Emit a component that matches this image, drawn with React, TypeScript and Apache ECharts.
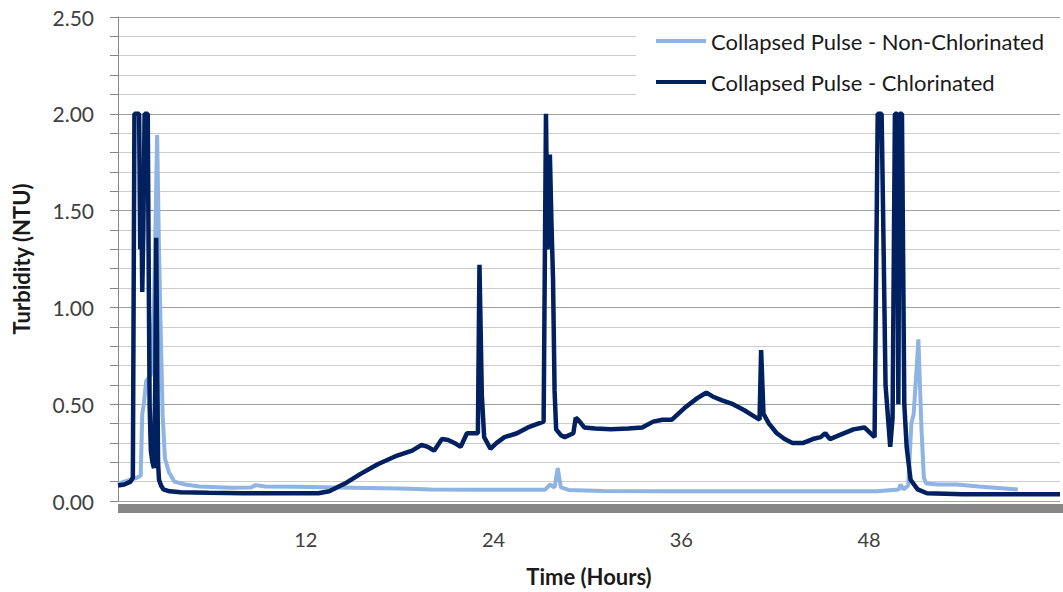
import { useEffect, useRef } from "react";
import * as echarts from "echarts";

// Series names as shown in the legend
const seriesNames = [
  "Collapsed Pulse - Non-Chlorinated",
  "Collapsed Pulse - Chlorinated",
];

// Hour marks labelled on the time axis
const hourLabels = [12, 24, 36, 48];

// Turbidity readings [hours, NTU] – non-chlorinated pulse
const nonChlorinated: [number, number][] = [
  [0, 0.09], [0.8, 0.11], [1.2, 0.12], [1.45, 0.13], [1.55, 0.45], [1.65, 0.5],
  [1.8, 0.62], [2.1, 0.65], [2.3, 1.0], [2.5, 1.89], [2.62, 1.3], [2.7, 0.98],
  [2.78, 0.7], [2.85, 0.45], [3.0, 0.22], [3.25, 0.15], [3.6, 0.1], [4.3, 0.085],
  [5.2, 0.075], [7.3, 0.068], [8.5, 0.07], [8.8, 0.082], [9.4, 0.075], [11.5, 0.073],
  [14, 0.07], [16, 0.067], [18, 0.064], [20, 0.06], [23, 0.058], [27.3, 0.058],
  [27.6, 0.085], [27.9, 0.07], [28.1, 0.17], [28.3, 0.07], [28.8, 0.057], [31, 0.052],
  [35, 0.05], [40, 0.05], [45, 0.05], [48.5, 0.05], [49.9, 0.06], [50.0, 0.085],
  [50.2, 0.06], [50.5, 0.08], [50.7, 0.4], [50.85, 0.45], [51.05, 0.7], [51.15, 0.835],
  [51.25, 0.6], [51.35, 0.37], [51.5, 0.12], [51.65, 0.09], [52.4, 0.085], [53.6, 0.085],
  [55, 0.075], [57.5, 0.06],
];

// Turbidity readings [hours, NTU] – chlorinated pulse
const chlorinated: [number, number][] = [
  [0, 0.08], [0.4, 0.085], [0.8, 0.1], [0.95, 0.12], [1.05, 2.0], [1.35, 2.0],
  [1.42, 1.3], [1.48, 1.62], [1.55, 1.08], [1.62, 1.4], [1.7, 2.0], [1.9, 2.0],
  [1.97, 1.1], [2.02, 0.5], [2.1, 0.26], [2.2, 0.2], [2.3, 0.17], [2.38, 0.6],
  [2.44, 1.36], [2.5, 0.8], [2.56, 0.2], [2.62, 0.11], [2.75, 0.08], [2.9, 0.06],
  [3.3, 0.05], [4, 0.045], [5.8, 0.042], [8, 0.04], [10, 0.04], [12.8, 0.04],
  [13.5, 0.05], [14.5, 0.09], [15.5, 0.14], [16.6, 0.19], [17.7, 0.23], [18.8, 0.26],
  [19.4, 0.29], [19.8, 0.28], [20.2, 0.26], [20.7, 0.32], [21.1, 0.315], [21.5, 0.3],
  [21.9, 0.28], [22.3, 0.35], [23.0, 0.35], [23.1, 1.22], [23.25, 0.55], [23.4, 0.33],
  [23.8, 0.27], [24.2, 0.3], [24.7, 0.33], [25.5, 0.35], [26.2, 0.38], [27.2, 0.41],
  [27.35, 2.0], [27.45, 1.3], [27.6, 1.79], [27.7, 1.44], [27.8, 1.15], [27.9, 0.57],
  [28.0, 0.37], [28.3, 0.34], [28.55, 0.33], [29.1, 0.35], [29.25, 0.43], [29.4, 0.42],
  [29.8, 0.38], [30.5, 0.375], [31.5, 0.37], [32.6, 0.375], [33.5, 0.38], [34.2, 0.41],
  [34.8, 0.42], [35.4, 0.42], [36.2, 0.48], [37.0, 0.53], [37.4, 0.55], [37.6, 0.56],
  [38.0, 0.54], [38.6, 0.52], [39.3, 0.5], [40.0, 0.47], [40.6, 0.44], [41.0, 0.42],
  [41.1, 0.78], [41.25, 0.45], [41.6, 0.4], [42.1, 0.35], [42.6, 0.32], [43.1, 0.3],
  [43.8, 0.3], [44.4, 0.32], [44.9, 0.33], [45.2, 0.35], [45.5, 0.32], [46.1, 0.34],
  [47.0, 0.37], [47.7, 0.38], [48.35, 0.33], [48.55, 2.0], [48.8, 2.0], [48.9, 1.46],
  [49.05, 0.6], [49.35, 0.28], [49.5, 0.43], [49.65, 2.0], [49.8, 2.0], [49.87, 0.5],
  [49.95, 2.0], [50.1, 2.0], [50.25, 0.5], [50.4, 0.28], [50.65, 0.11], [51.1, 0.06],
  [51.7, 0.04], [54, 0.035], [57, 0.035], [60.2, 0.035],
];

const FONT = "Lato, 'Noto Sans', sans-serif";

// Plot box (pixels from the chart's edges)
const GRID = { left: 118, right: 0, top: 17, bottom: 87 };
const WIDTH = 1063;
const HEIGHT = 592;

export default function App() {
  const ref = useRef<HTMLDivElement>(null);

  useEffect(() => {
    if (!ref.current) return;
    const chart = echarts.init(ref.current, undefined, { renderer: "svg" });
    chart.setOption({
      animation: false,
      backgroundColor: "#ffffff",
      textStyle: { fontFamily: FONT },
      grid: { ...GRID, containLabel: false },
      // grey floor under the plot area
      graphic: [
        {
          type: "rect",
          z: 10,
          shape: {
            x: GRID.left,
            y: HEIGHT - GRID.bottom - 1,
            width: WIDTH - GRID.left - GRID.right,
            height: 9,
          },
          style: { fill: "#878787" },
        },
      ],
      legend: {
        orient: "vertical",
        left: 636,
        top: 20,
        padding: [10, 40, 10, 20],
        itemGap: 19,
        itemWidth: 50,
        itemHeight: 4,
        icon: "rect",
        backgroundColor: "#ffffff",
        textStyle: { fontSize: 22, color: "#1a1a1a", fontFamily: FONT },
        data: seriesNames,
      },
      xAxis: {
        type: "value",
        min: 0,
        max: 60.2,
        interval: 12,
        name: "Time (Hours)",
        nameLocation: "middle",
        nameGap: 64,
        nameTextStyle: { fontSize: 22, fontWeight: "bold", color: "#1a1a1a", fontFamily: FONT },
        axisLine: { show: false },
        axisTick: { show: false },
        splitLine: { show: false },
        axisLabel: {
          margin: 28,
          fontSize: 20,
          color: "#404040",
          fontFamily: FONT,
          formatter: (v: number) => (hourLabels.includes(v) ? String(v) : ""),
        },
      },
      yAxis: {
        type: "value",
        min: 0,
        max: 2.5,
        interval: 0.5,
        name: "Turbidity (NTU)",
        nameLocation: "middle",
        nameGap: 86,
        nameRotate: 90,
        nameTextStyle: { fontSize: 22, fontWeight: "bold", color: "#1a1a1a", fontFamily: FONT },
        axisLine: { show: true, lineStyle: { color: "#868686", width: 1 } },
        axisTick: { show: true, length: 8, lineStyle: { color: "#868686" } },
        minorTick: { show: true, splitNumber: 5, length: 8, lineStyle: { color: "#868686" } },
        splitLine: { show: true, lineStyle: { color: "#a0a0a0", width: 1 } },
        minorSplitLine: { show: true, lineStyle: { color: "#cdcdcd", width: 1 } },
        axisLabel: {
          margin: 24,
          fontSize: 21,
          color: "#404040",
          fontFamily: FONT,
          formatter: (v: number) => v.toFixed(2),
        },
      },
      series: [
        {
          name: seriesNames[0],
          type: "line",
          data: nonChlorinated,
          showSymbol: false,
          symbol: "none",
          lineStyle: { color: "#8db4e2", width: 4 },
          itemStyle: { color: "#8db4e2" },
          z: 2,
        },
        {
          name: seriesNames[1],
          type: "line",
          data: chlorinated,
          showSymbol: false,
          symbol: "none",
          lineStyle: { color: "#002060", width: 4.5 },
          itemStyle: { color: "#002060" },
          z: 3,
        },
      ],
    });
    return () => chart.dispose();
  }, []);

  return (
    <div
      ref={ref}
      style={{ position: "fixed", left: 0, top: 0, width: WIDTH, height: HEIGHT }}
    />
  );
}
